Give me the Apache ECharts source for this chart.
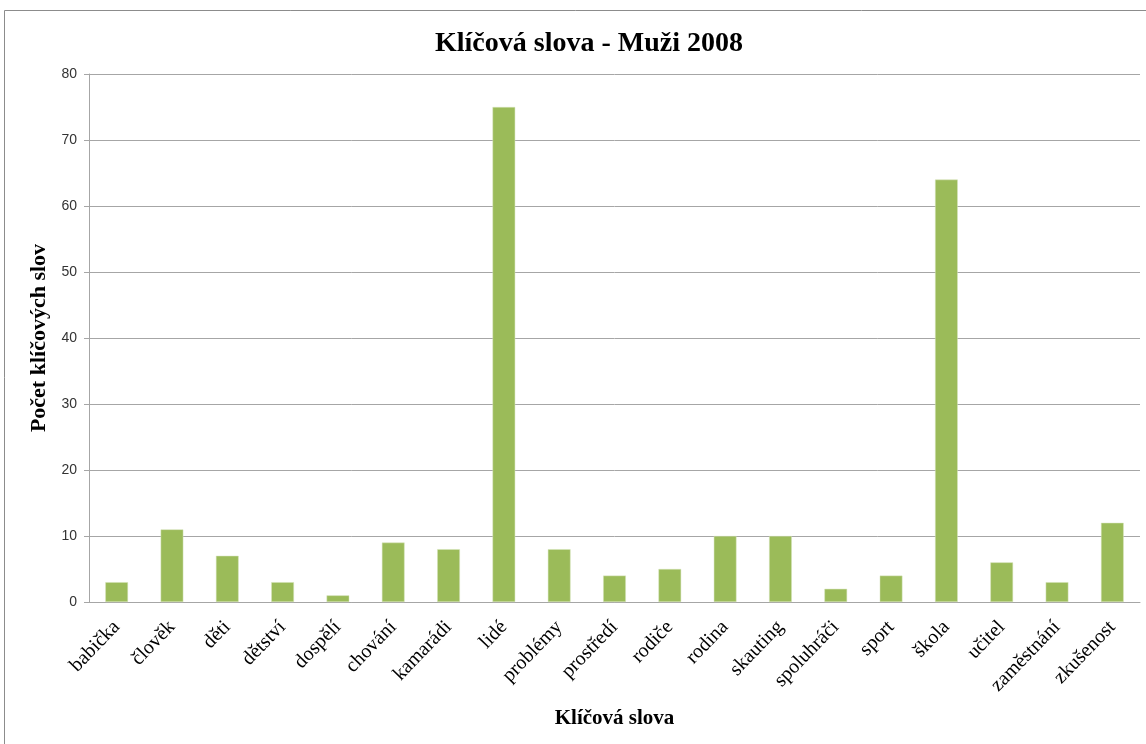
<!DOCTYPE html>
<html>
<head>
<meta charset="utf-8">
<script src="https://cdn.jsdelivr.net/npm/echarts@6/dist/echarts.min.js"></script>
<style>html,body{margin:0;padding:0;background:#fff;}#c{width:1146px;height:744px;}</style>
</head>
<body>
<div id="c"></div>
<script>
const categories = ["babička","člověk","děti","dětství","dospělí","chování","kamarádi","lidé","problémy","prostředí","rodiče","rodina","skauting","spoluhráči","sport","škola","učitel","zaměstnání","zkušenost"];
const values = [3,11,7,3,1,9,8,75,8,4,5,10,10,2,4,64,6,3,12];
const yTicks = {min:0, max:80, interval:10};

const chart = echarts.init(document.getElementById('c'), null, {renderer:'canvas'});
chart.setOption({
  animation:false,
  backgroundColor:'#fff',
  graphic:[{type:'rect', shape:{x:4.5,y:10.5,width:1160,height:760}, style:{fill:'none', stroke:'#8c8c8c', lineWidth:1}, silent:true}],
  title:{text:'Klíčová slova - Muži 2008', left:430, top:25, textStyle:{fontFamily:'Liberation Serif', fontWeight:'bold', fontSize:28, color:'#000'}},
  grid:{left:89, right:6, top:74, bottom:142, containLabel:false},
  xAxis:{type:'category', data:categories,
    name:'Klíčová slova', nameLocation:'middle', nameGap:106,
    nameTextStyle:{fontFamily:'Liberation Serif', fontWeight:'bold', fontSize:21, color:'#000'},
    axisLine:{lineStyle:{color:'#a6a6a6'}}, axisTick:{show:false},
    axisLabel:{rotate:46, interval:0, margin:22, fontFamily:'Liberation Serif', fontSize:20, color:'#000'}},
  yAxis:{type:'value', min:yTicks.min, max:yTicks.max, interval:yTicks.interval,
    name:'Počet klíčových slov', nameLocation:'middle', nameGap:32, nameRotate:90,
    nameTextStyle:{fontFamily:'Liberation Serif', fontWeight:'bold', fontSize:22, color:'#000'},
    axisLine:{show:true, lineStyle:{color:'#a6a6a6'}},
    axisTick:{show:true, length:5, lineStyle:{color:'#a6a6a6'}},
    axisLabel:{margin:12, fontFamily:'Liberation Sans', fontSize:14, color:'#333'},
    splitLine:{lineStyle:{color:'#a6a6a6'}}},
  series:[{type:'bar', data:values, barWidth:'41%',
    itemStyle:{color:'#9bbb59', borderColor:'#d7e4bd', borderWidth:0.5}}]
});
</script>
</body>
</html>
